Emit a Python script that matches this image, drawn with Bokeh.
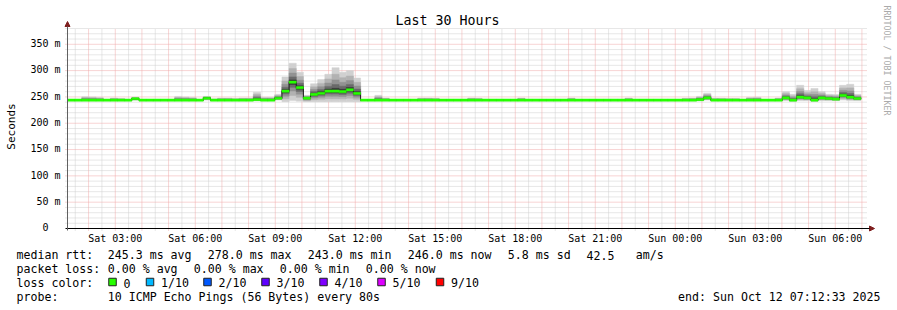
from datetime import datetime, timedelta
import math
from bokeh.plotting import figure
from bokeh.models import Range1d, Label, Arrow, NormalHead
from bokeh.core.properties import value
from bokeh.embed import file_html
from bokeh.resources import INLINE

# ---------------- data ----------------
START = datetime(2025, 10, 11, 1, 12, 33)
END = datetime(2025, 10, 12, 7, 12, 33)
BIN_SECONDS = 965  # consolidated step width

median_ms = [
    244, 244, 244, 244, 244, 244, 244, 244, 244, 246.5,
    244, 244, 244, 244, 244, 244, 244, 244, 244, 247.5,
    244, 244, 244, 244, 244, 244, 245, 244, 244, 247.5,
    261, 278, 267.5, 247.7, 254.7, 257, 261, 261, 260, 263.5,
    256.7, 244, 244, 244, 244, 244, 244, 244, 244, 244,
    244, 244, 244, 244, 244, 244, 244, 244, 244, 244,
    244, 244, 244, 244, 244, 244, 244, 244, 244, 244,
    244, 244, 244, 244, 244, 244, 244, 244, 244, 244,
    244, 244, 244, 244, 244, 244, 244, 244, 245, 248,
    244, 244, 244, 244, 244, 244, 244, 244, 244, 244,
    248, 244, 249.5, 248, 244, 248, 247, 246, 253, 249.6,
    247,
]
smoke_hi_ms = [
    245, 245, 250.5, 250, 249, 245, 248, 247, 245, 249.5,
    245, 245, 245, 245, 245, 251, 250, 249, 245, 251,
    246, 248, 248, 247, 248, 248, 259, 249.5, 249.5, 255,
    288, 314, 297, 253, 275, 283, 293, 305.5, 297, 300,
    286, 245, 245, 253, 248, 245, 245, 245, 245, 248,
    248, 247.5, 245, 245, 245, 245, 248, 247.5, 245, 245,
    245, 245, 245, 248, 245, 245, 245, 245, 245, 245,
    248, 245, 245, 245, 245, 245, 245, 245, 248, 245,
    245, 245, 245, 245, 245, 245, 247.5, 248, 251, 257,
    247.5, 247.5, 247, 247, 245, 249, 249.6, 245, 245, 248,
    260, 255, 272, 262, 266, 260, 255, 254.7, 272, 274,
    255,
]
smoke_lo_ms = [
    243, 243, 243, 243, 243, 243, 243, 243, 243, 244,
    243, 243, 243, 243, 243, 243, 243, 243, 243, 244,
    243, 243, 243, 243, 243, 243, 243, 243, 243, 244,
    241, 243, 242, 241, 241, 241, 241, 241, 241, 241,
    241, 243, 243, 243, 243, 243, 243, 243, 243, 243,
    243, 243, 243, 243, 243, 243, 243, 243, 243, 243,
    243, 243, 243, 243, 243, 243, 243, 243, 243, 243,
    243, 243, 243, 243, 243, 243, 243, 243, 243, 243,
    243, 243, 243, 243, 243, 243, 243, 243, 243, 244,
    243, 243, 243, 243, 243, 243, 243, 243, 243, 243,
    243, 242, 243, 243, 242, 243, 243, 243, 244, 243,
    243,
]

y_ticks = [0, 50, 100, 150, 200, 250, 300, 350]
y_tick_labels = ["0\u00a0\u00a0", "50 m", "100 m", "150 m", "200 m", "250 m", "300 m", "350 m"]
x_tick_times = [
    datetime(2025, 10, 11, 3), datetime(2025, 10, 11, 6), datetime(2025, 10, 11, 9),
    datetime(2025, 10, 11, 12), datetime(2025, 10, 11, 15), datetime(2025, 10, 11, 18),
    datetime(2025, 10, 11, 21), datetime(2025, 10, 12, 0), datetime(2025, 10, 12, 3),
    datetime(2025, 10, 12, 6),
]
x_tick_labels = ["Sat 03:00", "Sat 06:00", "Sat 09:00", "Sat 12:00", "Sat 15:00",
                 "Sat 18:00", "Sat 21:00", "Sun 00:00", "Sun 03:00", "Sun 06:00"]

rtt_avg, rtt_max, rtt_min, rtt_now, rtt_sd, am_s = 245.3, 278.0, 243.0, 246.0, 5.8, 42.5
loss_avg, loss_max, loss_min, loss_now = 0.00, 0.00, 0.00, 0.00
loss_labels = ["0", "1/10", "2/10", "3/10", "4/10", "5/10", "9/10"]
loss_colors = ["#26ff00", "#00b8ff", "#0059ff", "#5e00ff", "#7e00ff", "#dd00ff", "#ff0000"]
probe_text = "10 ICMP Echo Pings (56 Bytes) every 80s"
end_text = "end: Sun Oct 12 07:12:33 2025"
title_text = "Last 30 Hours"
y_axis_title = "Seconds"
watermark = "RRDTOOL / TOBI OETIKER"

# ---------------- geometry helpers ----------------
EPOCH = datetime(1970, 1, 1)


def ms(dt):
    return (dt - EPOCH).total_seconds() * 1000.0


X0, X1 = ms(START), ms(END)
Y_TOP = 380.0
PX_PER_X = 800.0 / (X1 - X0)      # graph area 800 px wide
PX_PER_Y = 200.0 / Y_TOP          # graph area 200 px high
GX, GY = 67, 228                  # graph origin on the canvas
FONT = "DejaVu Sans Mono"


def dx(px):
    return px / PX_PER_X


def dy(py):
    return py / PX_PER_Y


def at(px, py):
    return X0 + dx(px - GX), dy(GY - py)


p = figure(width=897, height=310,
           x_range=Range1d(X0 - dx(GX), X0 + dx(897 - GX)),
           y_range=Range1d(-dy(310 - GY), dy(GY)),
           x_axis_location=None, y_axis_location=None,
           output_backend="svg", toolbar_location=None, min_border=0)
p.min_border_left = p.min_border_right = p.min_border_top = p.min_border_bottom = 0
p.outline_line_color = None
p.background_fill_color = "white"
p.border_fill_color = "white"
p.grid.visible = False

# ---------------- grid ----------------
MINOR_C, MAJOR_C = "#cfcfcf", "#f0a8a8"
half_ticks = [ms(datetime(2025, 10, 11, 1, 30) + timedelta(hours=h)) for h in range(30)]
hour_ticks = [ms(datetime(2025, 10, 11, 2) + timedelta(hours=h)) for h in range(30)]
minor_y = [v for v in range(10, 390, 10) if v % 50]
major_y = list(range(50, 380, 50))
p.segment(x0=half_ticks, x1=half_ticks, y0=[-dy(2)] * len(half_ticks), y1=[Y_TOP] * len(half_ticks),
          line_color=MINOR_C, line_dash="1 1", line_width=1)
p.segment(x0=[X0 - dx(2)] * len(minor_y), x1=[X1] * len(minor_y), y0=minor_y, y1=minor_y,
          line_color=MINOR_C, line_dash="1 1", line_width=1)
p.segment(x0=hour_ticks, x1=hour_ticks, y0=[-dy(2)] * len(hour_ticks), y1=[Y_TOP] * len(hour_ticks),
          line_color=MAJOR_C, line_dash="1 1", line_width=1)
p.segment(x0=[X0 - dx(2)] * len(major_y), x1=[X1] * len(major_y), y0=major_y, y1=major_y,
          line_color=MAJOR_C, line_dash="1 1", line_width=1)

# ---------------- smoke ----------------
n = len(median_ms)
lefts = [X0 + k * BIN_SECONDS * 1000.0 for k in range(n)]
rights = [min(l + BIN_SECONDS * 1000.0, X1) for l in lefts]
layers = [(1.0, "#d0d0d0"), (0.72, "#b2b2b2"), (0.48, "#929292"), (0.28, "#6a6a6a"), (0.12, "#383838")]
for f, c in layers:
    tops = [m + f * (h - m) for m, h in zip(median_ms, smoke_hi_ms)]
    bots = [m - f * (m - lo) for m, lo in zip(median_ms, smoke_lo_ms)]
    p.quad(left=lefts, right=rights, top=tops, bottom=bots,
           fill_color=c, line_color=c, line_width=0.5)

# dark step line of the median
p.step(x=lefts + [rights[-1]], y=median_ms + [median_ms[-1]], mode="after",
       line_color="#1e1e1e", line_width=1)
# median bars coloured by loss (all 0 loss -> green)
centers = [(l + r) / 2 for l, r in zip(lefts, rights)]
widths = [r - l for l, r in zip(lefts, rights)]
p.rect(x=centers, y=median_ms, width=widths, height=2.2, height_units="screen",
       fill_color=loss_colors[0], line_color=loss_colors[0], line_width=0.5)

# ---------------- axes ----------------
ARROW_C = "#7f1f1f"
p.add_layout(Arrow(end=NormalHead(size=5, fill_color=ARROW_C, line_color=ARROW_C),
                   x_start=X0 - dx(2), y_start=0, x_end=X1 + dx(7), y_end=0,
                   line_color="black", line_width=1))
p.add_layout(Arrow(end=NormalHead(size=5, fill_color=ARROW_C, line_color=ARROW_C),
                   x_start=X0, y_start=-dy(2), x_end=X0, y_end=dy(GY - 21),
                   line_color="#606060", line_width=1))

p.text(x=[X0 - dx(7)] * len(y_ticks), y=[t + dy(0.8) for t in y_ticks], text=y_tick_labels,
       text_font=value(FONT), text_font_size="10px", text_align="right",
       text_baseline="middle", text_color="black")
xt = [ms(t) for t in x_tick_times]
p.text(x=xt, y=[-dy(237.5 - GY)] * len(xt), text=x_tick_labels,
       text_font=value(FONT), text_font_size="10px", text_align="center",
       text_baseline="alphabetic", text_color="black")

# ---------------- titles ----------------
tx, ty = at(447, 19.5)
p.add_layout(Label(x=tx, y=ty, text=title_text, text_align="center", text_baseline="alphabetic",
                   text_font=FONT, text_font_size="13.3px", text_color="black"))
sx, sy = at(11, 126)
p.add_layout(Label(x=sx, y=sy, text=y_axis_title, angle=math.pi / 2, text_align="center",
                   text_baseline="middle", text_font=FONT, text_font_size="11px", text_color="black"))
wx, wy = at(886, 60)
p.add_layout(Label(x=wx, y=wy, text=watermark, angle=-math.pi / 2,
                   text_align="center", text_baseline="middle", text_font=FONT,
                   text_font_size="8.3px", text_color="#aaaaaa"))

# ---------------- stats / legend block ----------------
rows_px = [254.5, 268.5, 282.5, 296.5]
seg_text = [
    "median rtt:", f"{rtt_avg:.1f} ms avg", f"{rtt_max:.1f} ms max", f"{rtt_min:.1f} ms min",
    f"{rtt_now:.1f} ms now", f"{rtt_sd:.1f} ms sd", f"{am_s:.1f}", "am/s",
    "packet loss:", f"{loss_avg:.2f} % avg", f"{loss_max:.2f} % max", f"{loss_min:.2f} % min",
    f"{loss_now:.2f} % now",
    "loss color:",
    "probe:", probe_text,
]
seg_px = [16, 107.3, 207.3, 307.3, 407.3, 507.3, 586, 635.3,
          16, 107.3, 193.3, 279.3, 365.3,
          16,
          16, 107.3]
seg_row = [0] * 8 + [1] * 5 + [2] + [3] * 2
p.text(x=[at(px, 0)[0] for px in seg_px], y=[at(0, rows_px[r])[1] for r in seg_row],
       text=seg_text, text_font=value(FONT), text_font_size="11.6px",
       text_baseline="alphabetic", text_align="left", text_color="black")
ex, ey = at(880, rows_px[3])
p.text(x=[ex], y=[ey], text=[end_text], text_font=value(FONT), text_font_size="11.6px",
       text_baseline="alphabetic", text_align="right", text_color="black")

box_px = [112, 149.5, 207, 265, 323, 381, 439.5]
box_y = at(0, 281.5)[1]
p.rect(x=[at(b, 0)[0] for b in box_px], y=[box_y] * len(box_px), width=7.5, height=7.5,
       width_units="screen", height_units="screen", fill_color=loss_colors,
       line_color="#202020", line_width=1)
p.text(x=[at(b + 11, 0)[0] for b in box_px], y=[at(0, rows_px[2])[1]] * len(box_px),
       text=loss_labels, text_font=value(FONT), text_font_size="11.6px",
       text_baseline="alphabetic", text_align="left", text_color="black")

open("out.html", "w").write(file_html(p, INLINE))
